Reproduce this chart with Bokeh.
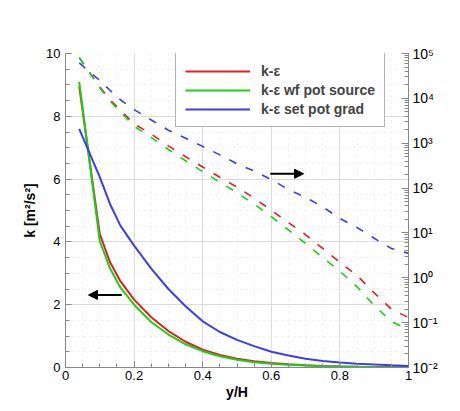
import numpy as np
from bokeh.plotting import figure
from bokeh.models import (Range1d, LogScale, LogAxis, Legend, LegendItem, Arrow,
                          NormalHead, Label, CustomJSTickFormatter, FixedTicker, LogTicker)
from bokeh.embed import file_html
from bokeh.resources import INLINE

# ---------------- data ----------------
y_over_H = [0.04, 0.10, 0.13, 0.16, 0.20, 0.25, 0.30, 0.35, 0.40, 0.45, 0.50,
            0.55, 0.60, 0.65, 0.70, 0.75, 0.80, 0.85, 0.90, 0.95, 1.00]

k_ke     = [8.95, 4.25, 3.35, 2.75, 2.16, 1.60, 1.16, 0.82, 0.57, 0.40, 0.28,
            0.20, 0.14, 0.10, 0.07, 0.05, 0.035, 0.025, 0.018, 0.012, 0.01]
k_wf     = [9.10, 4.02, 3.15, 2.55, 2.00, 1.45, 1.05, 0.74, 0.52, 0.36, 0.25,
            0.17, 0.12, 0.085, 0.06, 0.04, 0.03, 0.02, 0.014, 0.01, 0.008]
k_set    = [7.60, 6.06, 5.20, 4.52, 3.88, 3.15, 2.50, 1.95, 1.47, 1.13, 0.88,
            0.68, 0.50, 0.38, 0.28, 0.21, 0.16, 0.12, 0.095, 0.07, 0.05]

eps_ke   = [8.1e4, 1.8e4, 9.3e3, 5.5e3, 2.7e3, 1.6e3, 870, 500, 295, 174, 105,
            60, 32, 17, 9.1, 4.5, 2.2, 1.12, 0.46, 0.20, 0.13]
eps_wf   = [8.1e4, 1.7e4, 8.7e3, 5.0e3, 2.4e3, 1.35e3, 724, 407, 234, 135, 79,
            44, 23, 11.7, 5.8, 2.8, 1.4, 0.63, 0.24, 0.107, 0.069]
eps_set  = [6.2e4, 2.5e4, 1.5e4, 9.3e3, 5.6e3, 3.3e3, 1.95e3, 1.29e3, 850, 550, 347,
            240, 155, 93, 62, 38, 21, 13.2, 7.6, 4.5, 3.5]

series_labels = ["k-ε", "k-ε wf pot source", "k-ε set pot grad"]
series_colors = ["#e61e1e", "#14d214", "#3c3cf0"]

x_ticks = [0, 0.2, 0.4, 0.6, 0.8, 1.0]
k_ticks = [0, 2, 4, 6, 8, 10]

# arrow annotations (data coordinates: x = y/H, y = k)
arrow_left = dict(x_start=0.164, y_start=2.31, x_end=0.067, y_end=2.31)
arrow_right = dict(x_start=0.597, y_start=6.17, x_end=0.694, y_end=6.17)

# outer page frame edges (data coordinates, outside the plotting area)
frame_top = dict(x_start=-0.175, y_start=11.56, x_end=1.6, y_end=11.56)
frame_left = dict(x_start=-0.175, y_start=11.56, x_end=-0.175, y_end=-2.0)

FONT = "Liberation Sans"

p = figure(width=460, height=411, x_range=Range1d(0, 1), y_range=Range1d(0, 10),
           output_backend="svg", toolbar_location=None,
           min_border_left=65, min_border_right=52, min_border_top=53, min_border_bottom=44,
           x_axis_label="y/H", y_axis_label="k [m²/s²]")
p.outline_line_color = None
p.background_fill_color = "white"
p.border_fill_color = "white"

p.extra_y_ranges = {"eps": Range1d(1e-2, 1e5)}
p.extra_y_scales = {"eps": LogScale()}

# axes styling
for ax in (p.xaxis[0], p.yaxis[0]):
    ax.axis_line_color = "#888888"
    ax.major_tick_line_color = "#888888"
    ax.minor_tick_line_color = "#888888"
    ax.major_tick_in = 6
    ax.major_tick_out = 0
    ax.minor_tick_in = 4
    ax.minor_tick_out = 0
    ax.major_label_text_font = FONT
    ax.major_label_text_font_size = "13px"
    ax.major_label_text_color = "black"
    ax.axis_label_text_font = FONT
    ax.axis_label_text_font_size = "14px"
    ax.axis_label_text_font_style = "bold"
    ax.axis_label_text_color = "black"

p.xaxis.ticker = FixedTicker(ticks=x_ticks,
                             minor_ticks=[i * 0.05 for i in range(21)])
p.yaxis.ticker = FixedTicker(ticks=k_ticks,
                             minor_ticks=[i * 0.5 for i in range(21)])
p.xaxis.major_label_standoff = 3
p.xaxis.axis_label_standoff = 1
p.yaxis.major_label_standoff = 5
p.yaxis.axis_label_standoff = 5

p.xgrid.grid_line_color = "#dcdcdc"
p.ygrid.grid_line_color = "#dcdcdc"
p.xgrid.minor_grid_line_color = "#ececec"
p.ygrid.minor_grid_line_color = "#ececec"
p.xgrid.minor_grid_line_dash = "dotted"
p.ygrid.minor_grid_line_dash = "dotted"

fmt = CustomJSTickFormatter(code="""
const sup = {"0":"\u2070","1":"\u00b9","2":"\u00b2","3":"\u00b3","4":"\u2074",
             "5":"\u2075","6":"\u2076","7":"\u2077","8":"\u2078","9":"\u2079","-":"\u207b"};
const e = Math.round(Math.log10(tick));
return "10" + String(e).split("").map(c => sup[c]).join("");
""")
rax = LogAxis(y_range_name="eps", ticker=LogTicker(num_minor_ticks=10), formatter=fmt)
rax.axis_line_color = "#888888"
rax.major_tick_line_color = "#888888"
rax.minor_tick_line_color = "#888888"
rax.major_tick_in = 7
rax.major_tick_out = 0
rax.minor_tick_in = 4
rax.minor_tick_out = 0
rax.major_label_text_font = FONT
rax.major_label_text_font_size = "14px"
rax.major_label_text_color = "black"
rax.major_label_standoff = 4
p.add_layout(rax, "right")

# curves
k_series = [k_ke, k_wf, k_set]
eps_series = [eps_ke, eps_wf, eps_set]
items = []
for lab, col, kv, ev in zip(series_labels, series_colors, k_series, eps_series):
    r = p.line(y_over_H, kv, line_color=col, line_width=2)
    p.line(y_over_H, ev, line_color=col, line_width=1.6, line_dash="8 10",
           y_range_name="eps")
    items.append(LegendItem(label=lab, renderers=[r]))

legend = Legend(items=items, location=(110, 240))
legend.title = "."
legend.title_text_font_size = "6px"
legend.title_text_alpha = 0
legend.title_standoff = 0
legend.border_line_color = "#666666"
legend.border_line_width = 1
legend.background_fill_alpha = 1
legend.label_text_font = FONT
legend.label_text_font_size = "14px"
legend.label_text_font_style = "bold"
legend.glyph_width = 65
legend.glyph_height = 14
legend.label_height = 14
legend.label_width = 114
legend.spacing = 3
legend.padding = 9
legend.margin = 0
legend.label_standoff = 11
p.add_layout(legend, "center")

# arrows
p.add_layout(Arrow(end=NormalHead(size=9, fill_color="black", line_color="black"),
                   line_color="black", line_width=2, **arrow_left))
p.add_layout(Arrow(end=NormalHead(size=9, fill_color="black", line_color="black"),
                   line_color="black", line_width=2, **arrow_right))

# outer page frame lines (top and left)
p.add_layout(Arrow(end=None, line_color="#555555", line_width=1.5, **frame_top))
p.add_layout(Arrow(end=None, line_color="#555555", line_width=1.5, **frame_left))

# right axis label
p.add_layout(Label(x=1.103, y=5.0, text="ε [m²/s³]", angle=90, angle_units="deg",
                   text_align="center", text_baseline="middle", text_font=FONT,
                   text_font_size="14px", text_font_style="bold", text_color="black"))

open("out.html", "w").write(file_html(p, INLINE))
